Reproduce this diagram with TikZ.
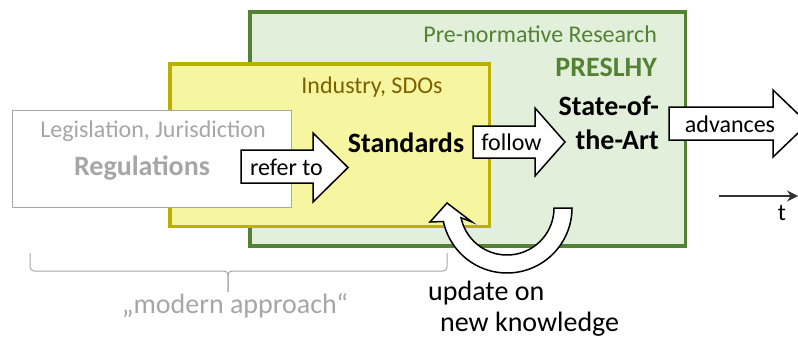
\documentclass[tikz,border=0pt]{standalone}
\usepackage{fontspec}
\setmainfont{Carlito}
\usetikzlibrary{arrows.meta}
\definecolor{graytxt}{HTML}{A6A6A6}
\definecolor{grnline}{HTML}{548235}
\definecolor{grnfill}{HTML}{E2EFDA}
\definecolor{ylwline}{HTML}{BAB000}
\definecolor{ylwfill}{HTML}{F6F6A0}
\definecolor{ylwtxt}{HTML}{7F6000}
\tikzset{
  box/.style={rectangle, inner sep=0pt, outer sep=0pt},
  blockarrow/.style={draw=black, fill=white, line width=1.5pt, line join=miter},
  lbl/.style={inner sep=0pt, font=\fontsize{24}{28}\selectfont},
  big/.style={inner sep=0pt, font=\fontsize{28}{32}\selectfont},
  bigb/.style={inner sep=0pt, font=\fontsize{28}{32}\selectfont\bfseries},
}
\begin{document}
\begin{tikzpicture}[x=1pt,y=-1pt]
\useasboundingbox (0,0) rectangle (798,340);
\clip (0,0) rectangle (798,340);

% boxes
\node (green) [box, draw=grnline, fill=grnfill, line width=3.5pt, minimum width=435.5pt, minimum height=234pt] at (467.75,129) {};
\node (yellow) [box, draw=ylwline, fill=ylwfill, line width=3.5pt, minimum width=319.5pt, minimum height=162.5pt] at (329.75,145.25) {};
\node (gray) [box, draw=graytxt, fill=white, line width=1.6pt, minimum width=279pt, minimum height=97pt] at (152,159) {};

% box texts
\node (prenorm) [lbl, text=grnline, anchor=base east] at (657,42) {Pre-normative Research};
\node (preslhy) [bigb, text=grnline, anchor=base east] at (657,76) {PRESLHY};
\node (industry) [lbl, text=ylwtxt, anchor=base] at (372,93) {Industry, SDOs};
\node (legis) [lbl, text=graytxt, anchor=base] at (153,137) {Legislation, Jurisdiction};
\node (regs) [bigb, text=graytxt, anchor=base] at (142,175) {Regulations};
\node (stds) [bigb, anchor=base] at (406,152) {Standards};
\node (sota1) [bigb, anchor=base east] at (659,115) {State-of-};
\node (sota2) [bigb, anchor=base east] at (659,149) {the-Art};

% block arrows
\draw[blockarrow] (241,150) -- (313,150) -- (313,133) -- (348,167.5) -- (313,202) -- (313,183) -- (241,183) -- cycle;
\node (refer) [lbl, anchor=base] at (286.5,175) {refer to};

\draw[blockarrow] (473,126) -- (535,126) -- (535,108) -- (565,142) -- (535,176) -- (535,158) -- (473,158) -- cycle;
\node (follow) [lbl, anchor=base] at (511.5,150) {follow};

\draw[blockarrow] (669,107) -- (773,107) -- (773,90) -- (808,123.5) -- (773,157) -- (773,140) -- (669,140) -- cycle;
\node (adv) [lbl, anchor=base] at (730,132) {advances};

% curved update arrow
\draw[blockarrow] plot[domain=0:168, samples=60] ({507+65*cos(\x)},{208+65*sin(\x)})
  -- (430,222) -- (447,203) -- (472,222)
  -- plot[domain=168:0, samples=60] ({507+47*cos(\x)},{208+47*sin(\x)}) -- cycle;
\node (upd1) [big, anchor=base west] at (428,300) {update on};
\node (upd2) [big, anchor=base west] at (440,331) {new knowledge};

% time axis
\coordinate (t0) at (719,196);
\coordinate (t1) at (798,196);
\draw[line width=1.2pt, color=black!80, -{Stealth[length=11pt,width=11pt]}] (t0) -- (t1);
\node (t) [lbl, anchor=base] at (782,220) {t};

% brace
\coordinate (bl) at (30,253);
\coordinate (bm) at (228,292);
\coordinate (br) at (447,253);
\draw[graytxt, line width=1pt, rounded corners=4pt]
  (bl) -- (30,271) -- (228,271) -- (bm);
\draw[graytxt, line width=1pt, rounded corners=4pt]
  (br) -- (447,271) -- (228,271) -- (bm);
\node (modern) [big, text=graytxt, anchor=base] at (235,313) {„modern approach“};
\end{tikzpicture}
\end{document}
